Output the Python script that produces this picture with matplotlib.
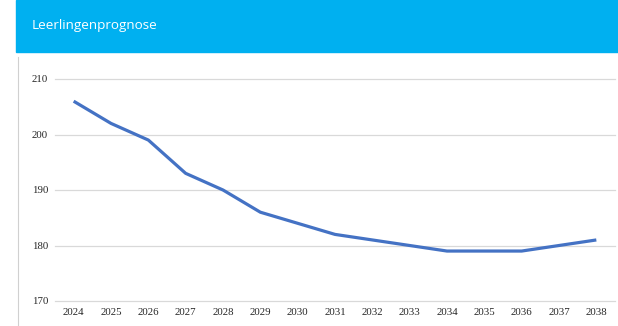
import matplotlib.pyplot as plt
from matplotlib.patches import Rectangle
from matplotlib.lines import Line2D

years = ['2024', '2025', '2026', '2027', '2028', '2029', '2030', '2031',
         '2032', '2033', '2034', '2035', '2036', '2037', '2038']
pupils = [206, 202, 199, 193, 190, 186, 184, 182, 181, 180, 179, 179, 179, 180, 181]
yticks = [170, 180, 190, 200, 210]

W, H = 618, 326
fig = plt.figure(figsize=(W / 100, H / 100), dpi=100)

# blue header banner
fig.patches.append(Rectangle((15.5 / W, 1 - 52 / H), 1 - 15.5 / W, 52 / H,
                             transform=fig.transFigure, color='#00B0F0', zorder=0))
fig.text(32 / W, 1 - 26 / H, 'Leerlingenprognose', color='white',
         family='Open Sans', fontsize=9.7, va='center', ha='left')
# thin grey border on the left
fig.lines.append(Line2D([18.3 / W, 18.3 / W], [0, 1 - 57 / H],
                        transform=fig.transFigure, color='#d0d0d0', lw=0.8))

ax = fig.add_axes([55 / W, 1 - 301 / H, (615 - 55) / W, (301 - 79) / H])
x = range(len(years))
ax.plot(x, pupils, color='#4472C4', lw=2.3, solid_capstyle='butt', zorder=3)

ax.set_xlim(-0.5, len(years) - 0.5)
ax.set_ylim(170, 210)
ax.set_xticks(list(x))
ax.set_xticklabels(years)
ax.set_yticks(yticks)
ax.grid(axis='y', color='#d9d9d9', lw=0.9)
for gl in ax.get_ygridlines():
    gl.set_clip_on(False)
ax.set_axisbelow(True)
for s in ax.spines.values():
    s.set_visible(False)
ax.tick_params(length=0, labelsize=7.8, colors='#262626', pad=5)
for lab in ax.get_xticklabels() + ax.get_yticklabels():
    lab.set_family('Liberation Serif')

plt.savefig('out.png', dpi=100)
